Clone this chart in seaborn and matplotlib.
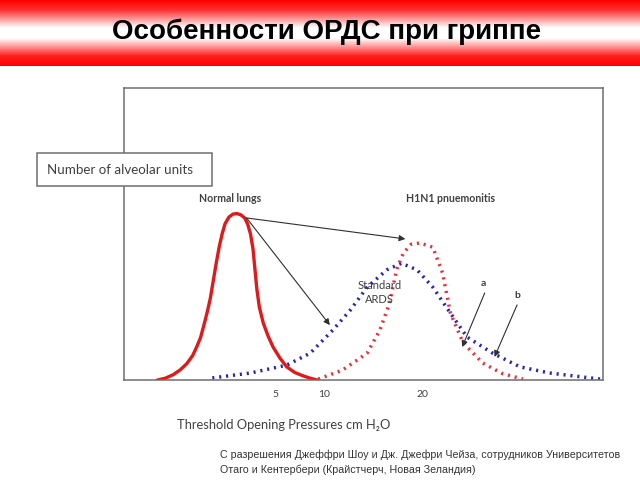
import numpy as np
import pandas as pd
import matplotlib
matplotlib.use("Agg")
import matplotlib.pyplot as plt
import seaborn as sns
from matplotlib.colors import LinearSegmentedColormap
from matplotlib.patches import Rectangle

# ---------------- data ----------------
title = "Особенности ОРДС при гриппе"
y_label = "Number of alveolar units"
x_label = "Threshold Opening Pressures cm H\u2082O"
footnote = ["С разрешения Джеффри Шоу и Дж. Джефри Чейза, сотрудников Университетов",
            "Отаго и Кентербери (Крайстчерч, Новая Зеландия)"]
x_ticks = [5, 10, 20]

normal_x = [-7.0, -6.2, -5.4, -4.7, -4.0, -3.4, -3.0, -2.6, -2.2, -1.9, -1.6, -1.3, -1.0, -0.7,
            -0.4, -0.1, 0.3, 0.7, 1.1, 1.5, 1.9, 2.2, 2.5, 2.75, 2.95, 3.15, 3.4, 3.8, 4.3,
            4.8, 5.5, 6.2, 7.0, 7.8, 8.6, 9.3]
normal_y = [0, 0.6, 1.8, 3.4, 5.6, 8.4, 11.3, 14.5, 19.5, 23.5, 28, 34, 40, 45.5,
            50, 53.5, 55.8, 56.8, 57, 56.6, 55.5, 53.5, 50, 45, 38, 31, 25, 19.5, 15,
            11.3, 7.5, 4.5, 2.6, 1.5, 0.6, 0]

ards_x = [-1.4, 2.5, 6.2, 8.6, 10.9, 12.7, 14.4, 16.4, 17.9, 19.5, 21.1, 22.9, 24.6, 27.2, 30, 33, 38.2]
ards_y = [0.7, 2.4, 5.1, 9.2, 17.1, 24, 31.8, 37.7, 40, 37.7, 31.8, 22.9, 14.7, 9.2, 4.5, 2.4, 0.3]

h1n1_x = [9.4, 11.9, 14.4, 15.7, 16.7, 17.4, 18.1, 18.9, 19.8, 21.1, 22.1, 22.9, 24.2, 26.2, 28.2, 30.3]
h1n1_y = [0.3, 3.4, 9.2, 17.1, 26.4, 37.7, 43.5, 46.5, 46.9, 45.5, 36.6, 22.9, 12.7, 5.8, 2.2, 0.3]

# ---------------- figure ----------------
sns.set_style("white")
plt.rcParams['font.family'] = ['Lato', 'DejaVu Sans']

fig = plt.figure(figsize=(6.4, 4.8), dpi=100)

# title band gradient
band = fig.add_axes([0, 1 - 66 / 480, 1, 66 / 480])
cmap = LinearSegmentedColormap.from_list(
    "band", [(0.0, "#ff0000"), (0.15, "#ff3030"), (0.42, "#ffffff"), (0.58, "#ffffff"),
             (0.85, "#ff2020"), (1.0, "#ff0000")])
grad = np.linspace(0, 1, 200).reshape(-1, 1)
band.imshow(grad, aspect="auto", cmap=cmap, extent=[0, 1, 1, 0])
band.set_axis_off()
fig.text(0.51, 1 - 32 / 480, title, ha="center", va="center", fontsize=20,
         fontweight="bold", family=["Liberation Sans", "DejaVu Sans"], color="#000000")

# main axes
ax = fig.add_axes([124 / 640, 1 - 380 / 480, (603 - 124) / 640, (380 - 88) / 480])
ax.set_xlim(-10.41, 38.47)
ax.set_ylim(0, 100)

df_n = pd.DataFrame({"x": normal_x, "y": normal_y})
df_a = pd.DataFrame({"x": ards_x, "y": ards_y})
df_h = pd.DataFrame({"x": h1n1_x, "y": h1n1_y})

sns.lineplot(data=df_a, x="x", y="y", ax=ax, color="#2424b8", lw=2.5, sort=False)
sns.lineplot(data=df_h, x="x", y="y", ax=ax, color="#e8303a", lw=2.5, sort=False)
sns.lineplot(data=df_n, x="x", y="y", ax=ax, color="#e01a1a", lw=2.4, sort=False)
ax.lines[0].set_dashes([0.6, 1.4])
ax.lines[1].set_dashes([0.6, 1.4])

ax.set_xticks(x_ticks)
ax.set_xticklabels([str(t) for t in x_ticks])
ax.set_yticks([])
ax.tick_params(axis="x", length=0, labelsize=7.5, pad=7, labelcolor="#404040")
ax.set_xlabel("")
ax.set_ylabel("")
for s in ax.spines.values():
    s.set_color("#6e6e6e")
    s.set_linewidth(1.1)

# annotations
tc = "#404040"
ax.text(0.4, 62.3, "Normal lungs", ha="center", va="center", fontsize=7.6,
        fontweight="bold", color=tc)
ax.text(22.9, 62.3, "H1N1 pnuemonitis", ha="center", va="center", fontsize=7.6,
        fontweight="bold", color=tc)
ax.text(15.7, 32.5, "Standard", ha="center", va="center", fontsize=8, color=tc)
ax.text(15.7, 27.7, "ARDS", ha="center", va="center", fontsize=8, color=tc)
ax.text(26.3, 33.2, "a", ha="center", va="center", fontsize=7.5, fontweight="bold", color=tc)
ax.text(29.7, 29.0, "b", ha="center", va="center", fontsize=7.5, fontweight="bold", color=tc)

ap = dict(arrowstyle="-|>", color="#303030", lw=0.8, mutation_scale=9, shrinkA=0, shrinkB=0)
ax.annotate("", xy=(18.3, 48.3), xytext=(2.1, 55.5), arrowprops=ap)
ax.annotate("", xy=(10.6, 18.8), xytext=(2.1, 55.5), arrowprops=ap)
ax.annotate("", xy=(24.1, 11.3), xytext=(26.4, 29.8), arrowprops=ap)
ax.annotate("", xy=(27.4, 7.9), xytext=(29.7, 25.7), arrowprops=ap)

# y-label box
box = Rectangle((37 / 640, 1 - 186 / 480), 175 / 640, 33 / 480, transform=fig.transFigure,
                facecolor="white", edgecolor="#6e6e6e", lw=1.1, zorder=5)
fig.add_artist(box)
fig.text(47 / 640, 1 - 170 / 480, y_label, ha="left", va="center", fontsize=9.6,
         color="#404040", zorder=6)

# x label
fig.text(177 / 640, 1 - 425 / 480, x_label, ha="left", va="center", fontsize=9.3,
         color="#404040")

# footnote
fig.text(220 / 640, 1 - 455 / 480, footnote[0], ha="left", va="center", fontsize=7.7,
         color="#333333", family=["Liberation Sans", "DejaVu Sans"])
fig.text(220 / 640, 1 - 470 / 480, footnote[1], ha="left", va="center", fontsize=7.7,
         color="#333333", family=["Liberation Sans", "DejaVu Sans"])

fig.savefig("out.png", dpi=100)
